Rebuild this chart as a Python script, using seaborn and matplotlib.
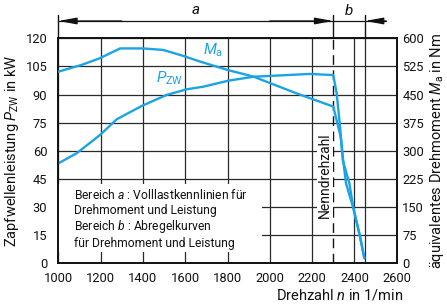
import numpy as np
import pandas as pd
import seaborn as sns
import matplotlib
matplotlib.use("Agg")
import matplotlib.pyplot as plt
from matplotlib.patches import Rectangle
import matplotlib.transforms as mtransforms

# ---- data ----
p_speed = [1000, 1087, 1197, 1276, 1394, 1512, 1607, 1686, 1804, 1922, 2190, 2300,
           2316, 2332, 2345, 2376, 2395, 2426, 2447]
p_power = [53.3, 58.7, 68.4, 76.8, 83.9, 89.8, 92.8, 94.2, 97.4, 99.5, 101.0, 100.4,
           90.8, 72.9, 55.0, 42.8, 29.5, 14.5, 2.7]

m_speed = [1000, 1110, 1197, 1292, 1402, 1496, 1591, 1670, 1804, 1922, 2127, 2300,
           2335, 2347, 2360, 2395, 2426, 2447]
m_torque = [511, 529, 547, 573, 573, 569, 553, 538, 515, 498, 453, 418,
            338, 275, 214, 147, 73, 13]

x_ticks = [1000, 1200, 1400, 1600, 1800, 2000, 2200, 2400, 2600]
p_ticks = [0, 15, 30, 45, 60, 75, 90, 105, 120]
m_ticks = [0, 75, 150, 225, 300, 375, 450, 525, 600]
rated_speed = 2300
cutoff_speed = 2450

BLUE = "#1BA3E3"

sns.set_theme(style="white")
plt.rcParams["font.family"] = ["Roboto", "DejaVu Sans"]
plt.rcParams["mathtext.fontset"] = "custom"
plt.rcParams["mathtext.rm"] = "Roboto"
plt.rcParams["mathtext.it"] = "Roboto:italic"
plt.rcParams["mathtext.bf"] = "Roboto:bold"

fig = plt.figure(figsize=(4.47, 3.05), dpi=100)
ax = fig.add_axes([0.1304, 0.1367, 0.7571, 0.7377])
ax2 = ax.twinx()

dfp = pd.DataFrame({"n": p_speed, "P": p_power})
dfm = pd.DataFrame({"n": m_speed, "M": m_torque})
sns.lineplot(data=dfp, x="n", y="P", ax=ax, color=BLUE, lw=1.7, sort=False, zorder=5)
sns.lineplot(data=dfm, x="n", y="M", ax=ax2, color=BLUE, lw=1.7, sort=False, zorder=5)

ax.set_xlim(1000, 2600)
ax.set_ylim(0, 120)
ax2.set_ylim(0, 600)
ax.set_xticks(x_ticks)
ax.set_xticklabels([str(v) for v in x_ticks])
ax.set_yticks(p_ticks)
ax.set_yticklabels([str(v) for v in p_ticks])
ax2.set_yticks(m_ticks)
ax2.set_yticklabels([str(v) for v in m_ticks])

ax.tick_params(axis="both", length=0, labelsize=9.3, colors="#111111")
ax.tick_params(axis="y", pad=8)
ax.tick_params(axis="x", pad=6)
ax2.tick_params(axis="y", length=0, labelsize=9.3, pad=4, colors="#111111")

ax.set_axisbelow(True)
ax.grid(True, color="#2a2a2a", lw=0.9)
ax2.grid(False)
ax.axvline(rated_speed, color="#111111", lw=1.0, dashes=(7, 4), zorder=1.5)
ax.axvline(cutoff_speed, color="#2a2a2a", lw=0.9, zorder=1.5)

for a_ in (ax, ax2):
    for s in a_.spines.values():
        s.set_color("#111111")
        s.set_linewidth(1.2)

# white text area
ax.add_patch(Rectangle((0, 0.05), 0.603, 0.302, transform=ax.transAxes,
                       facecolor="white", edgecolor="none", zorder=2))
lines = ["Bereich $a$ : Volllastkennlinien für",
         "Drehmoment und Leistung",
         "Bereich $b$ : Abregelkurven",
         "für Drehmoment und Leistung"]
ys = [0.303, 0.235, 0.162, 0.090]
for t, yy in zip(lines, ys):
    ax.text(0.046, yy, t, transform=ax.transAxes, fontsize=8.7, va="center",
            ha="left", color="#111111", zorder=3)

ax.text(2293, 47, "Nenndrehzahl", rotation=90, ha="right", va="center",
        fontsize=10, color="#111111", zorder=3,
        bbox=dict(facecolor="white", edgecolor="none", pad=0.6))

# curve labels
ax2.text(1685, 569, r"$M_\mathrm{a}$", color=BLUE, fontsize=11, ha="left", va="center", zorder=6)
ax.text(1462, 98.8, r"$P_\mathrm{ZW}$", color=BLUE, fontsize=11, ha="left", va="center", zorder=6)

# axis labels
ax.set_xlabel(r"Drehzahl $n$ in 1/min", fontsize=10.5, ha="right", va="center", color="#111111")
ax.xaxis.set_label_coords(1.019, -0.141)
ax.set_ylabel(r"Zapfwellenleistung $P_\mathrm{ZW}$ in kW", fontsize=10.5, va="center", color="#111111")
ax.yaxis.set_label_coords(-0.137, 0.5)
ax2.set_ylabel(r"äquivalentes Drehmoment $M_\mathrm{a}$ in Nm", fontsize=10.5, va="center",
               rotation=90, color="#111111")
ax2.yaxis.set_label_coords(1.119, 0.5)

# dimension lines above the plot
tr = mtransforms.blended_transform_factory(ax.transData, ax.transAxes)
y_dim = 1.077
y_top = 1.104
for xv in (1000, rated_speed, cutoff_speed):
    ax.plot([xv, xv], [1.0, y_top], transform=tr, color="#111111", lw=1.0, clip_on=False)
ax.plot([1000, 2550], [y_dim, y_dim], transform=tr, color="#111111", lw=0.9, clip_on=False)
arrow = dict(arrowstyle="-|>,head_length=1.1,head_width=0.2", mutation_scale=10,
             color="#111111", lw=0.9, shrinkA=0, shrinkB=0)
ax.annotate("", xy=(1000, y_dim), xytext=(1300, y_dim), xycoords=tr, textcoords=tr, arrowprops=arrow)
ax.annotate("", xy=(rated_speed, y_dim), xytext=(2000, y_dim), xycoords=tr, textcoords=tr, arrowprops=arrow)
ax.annotate("", xy=(cutoff_speed, y_dim), xytext=(2550, y_dim), xycoords=tr, textcoords=tr, arrowprops=arrow)
ax.text(1650, 1.125, "$a$", transform=tr, ha="center", va="center", fontsize=11, color="#111111")
ax.text(2375, 1.125, "$b$", transform=tr, ha="center", va="center", fontsize=11, color="#111111")

fig.savefig("out.png", dpi=100)
